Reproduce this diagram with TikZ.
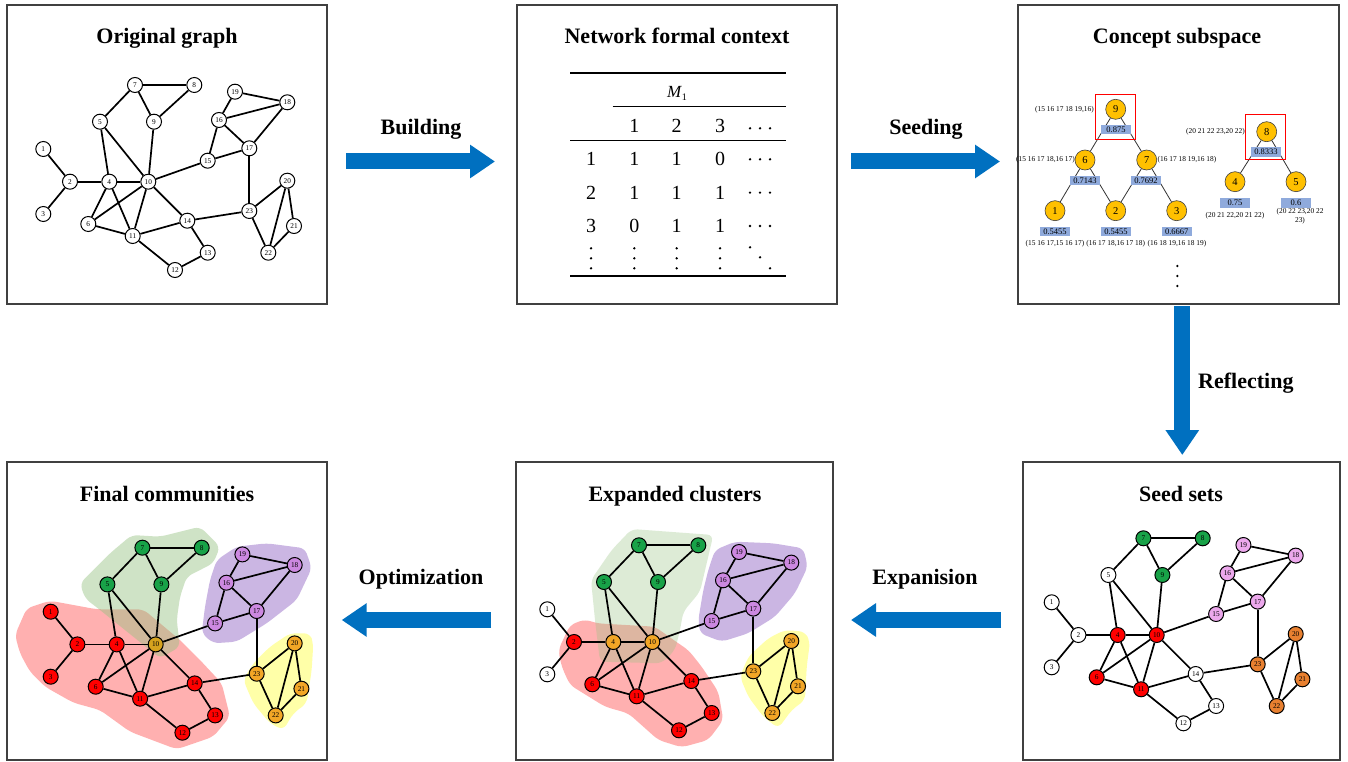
\documentclass[tikz,border=0pt]{standalone}
\usepackage{fontspec}
\setmainfont{Liberation Serif}
\usetikzlibrary{arrows.meta}

\definecolor{framec}{RGB}{64,64,64}
\definecolor{arrowblue}{RGB}{0,112,192}
\definecolor{cred}{RGB}{255,0,0}
\definecolor{cgreen}{RGB}{24,162,72}
\definecolor{cpink}{RGB}{236,168,236}
\definecolor{cpurple}{RGB}{204,136,224}
\definecolor{corangeA}{RGB}{232,128,48}
\definecolor{corangeB}{RGB}{242,166,38}
\definecolor{cgold}{RGB}{214,162,30}
\definecolor{hred}{RGB}{255,150,150}
\definecolor{hgreen}{RGB}{150,195,130}
\definecolor{hpurple}{RGB}{203,182,227}
\definecolor{hyellow}{RGB}{255,255,168}
\definecolor{tgold}{RGB}{255,192,0}
\definecolor{tblue}{RGB}{143,170,220}

\tikzset{
  panel/.style={draw=framec, line width=2pt},
  title/.style={anchor=base, inner sep=0pt, font=\fontsize{22}{24}\selectfont\bfseries},
  bigarrow/.style={draw=arrowblue, line width=16pt, -{Triangle[width=32pt,length=25pt]}},
  gn/.style={circle, draw=black, line width=1pt, minimum size=15pt, inner sep=0pt, font=\fontsize{7.3}{7.3}\selectfont},
  ge/.style={line width=1.7pt, draw=black},
  tabtxt/.style={anchor=base, inner sep=0pt, font=\fontsize{20}{20}\selectfont},
  tnode/.style={circle, fill=tgold, draw=black!75, line width=0.6pt, minimum size=20pt, inner sep=0pt, font=\fontsize{10.5}{10.5}\selectfont},
  tbox/.style={fill=tblue, minimum width=30pt, minimum height=9.3pt, inner sep=0pt, font=\fontsize{8.5}{8.5}\selectfont},
  tlab/.style={inner sep=0pt, font=\fontsize{7.4}{9}\selectfont, align=center},
  tedge/.style={draw=black!80, line width=0.8pt},
  redframe/.style={draw=red, line width=1pt},
  hullR/.style={fill=hred, fill opacity=0.75, rounded corners=6pt},
  hullG/.style={fill=hgreen, fill opacity=#1, rounded corners=6pt},
  hullP/.style={fill=hpurple, rounded corners=6pt},
  hullY/.style={fill=hyellow, rounded corners=6pt},
}

\newcommand\setcols[2]{\foreach \n in {#2} {\expandafter\xdef\csname gc\n\endcsname{#1}}}
\newcommand\drawgraph{%
  \foreach \n/\x/\y in {1/43.3/149, 2/70/181.7, 3/43.3/214, 4/109.3/181.7, 5/100/121.7,
    6/88.3/224, 7/135/85, 8/194.3/85, 9/154/121.7, 10/148.3/181.7, 11/132.7/236,
    12/175/270, 13/207.7/252.7, 14/187.3/220.7, 15/207.7/160.7, 16/219/120,
    17/249.3/148.3, 18/287.3/102.3, 19/235/91.7, 20/287.3/180.7, 21/294/226,
    22/268.3/252.7, 23/249.3/211}
    {\node[gn, fill=\csname gc\n\endcsname] (\n) at (\x,\y) {\n};}
  \foreach \a/\b in {1/2, 2/3, 2/4, 4/10, 4/5, 5/7, 5/10, 7/8, 7/9, 8/9, 9/10, 4/6,
    4/11, 6/10, 6/11, 10/11, 10/14, 11/14, 11/12, 12/13, 13/14, 10/15, 15/16, 15/17,
    16/17, 16/19, 16/18, 19/18, 18/17, 17/23, 14/23, 23/20, 23/22, 20/22, 20/21, 21/22}
    {\draw[ge] (\a) -- (\b);}
}

\begin{document}
\begin{tikzpicture}[x=1pt,y=-1pt]
\useasboundingbox (0,0) rectangle (1348,762);
\fill[white] (0,0) rectangle (1348,762);

% ---------- panel frames ----------
\draw[panel] (7,5) rectangle (327,304);
\draw[panel] (517,5) rectangle (837,304);
\draw[panel] (1018,5) rectangle (1339,304);
\draw[panel] (7,462) rectangle (327,760);
\draw[panel] (516,462) rectangle (833,760);
\draw[panel] (1023,462) rectangle (1340,760);

% ---------- titles ----------
\node[title] (ti1) at (167,44) {Original graph};
\node[title] (ti2) at (677,44) {Network formal context};
\node[title] (ti3) at (1177,44) {Concept subspace};
\node[title] (ti4) at (167,501) {Final communities};
\node[title] (ti5) at (675,501) {Expanded clusters};
\node[title] (ti6) at (1181,501) {Seed sets};

% ---------- arrows ----------
\coordinate (a1s) at (346,161.5); \coordinate (a1e) at (495,161.5);
\coordinate (a2s) at (851,161.5); \coordinate (a2e) at (1000,161.5);
\coordinate (a3s) at (1182.3,306); \coordinate (a3e) at (1182.3,455);
\coordinate (a4s) at (491,620); \coordinate (a4e) at (341.7,620);
\coordinate (a5s) at (1001,620); \coordinate (a5e) at (851,620);
\draw[bigarrow] (a1s) -- (a1e);
\draw[bigarrow] (a2s) -- (a2e);
\draw[bigarrow] (a3s) -- (a3e);
\draw[bigarrow] (a4s) -- (a4e);
\draw[bigarrow] (a5s) -- (a5e);
\node[title] (l1) at (421,135) {Building};
\node[title] (l2) at (926,135) {Seeding};
\node[title, anchor=base west] (l3) at (1198,388) {Reflecting};
\node[title] (l4) at (421,584) {Optimization};
\node[title] (l5) at (925,584) {Expanision};

% ---------- original graph ----------
\setcols{white}{1,...,23}
\begin{scope}[name prefix=O-]
\drawgraph
\end{scope}

% ---------- network formal context ----------
\draw[line width=2pt] (570,73.3) -- (785.7,73.3);
\draw[line width=1pt] (612.7,106.7) -- (785.7,106.7);
\draw[line width=1pt] (570,140.7) -- (785.7,140.7);
\draw[line width=2pt] (570,276) -- (785.7,276);
\node[anchor=base, inner sep=0pt] (m1) at (677,97.5) {\fontsize{17}{17}\selectfont\itshape M\/\raisebox{-3.5pt}{\fontsize{10}{10}\selectfont\upshape 1}};
\node[tabtxt] (h1) at (634.3,132.7) {1};
\node[tabtxt] (h2) at (676.7,132.7) {2};
\node[tabtxt] (h3) at (720,132.7) {3};
\node[tabtxt] (r1) at (591,166) {1};
\node[tabtxt] (r2) at (591,199.3) {2};
\node[tabtxt] (r3) at (591,232.7) {3};
\node[tabtxt] (r1a) at (634.3,166) {1}; \node[tabtxt] (r1b) at (676.7,166) {1}; \node[tabtxt] (r1c) at (720,166) {0};
\node[tabtxt] (r2a) at (634.3,199.3) {1}; \node[tabtxt] (r2b) at (676.7,199.3) {1}; \node[tabtxt] (r2c) at (720,199.3) {1};
\node[tabtxt] (r3a) at (634.3,232.7) {0}; \node[tabtxt] (r3b) at (676.7,232.7) {1}; \node[tabtxt] (r3c) at (720,232.7) {1};
\foreach \y in {128.3,159.3,192.6,226}{
  \foreach \x in {750,760,770} \fill (\x,\y) circle (1.3);
}
\foreach \x in {591,634.3,676.7,720}{
  \foreach \y in {248.3,258.3,268.3} \fill (\x,\y) circle (1.3);
}
\fill (750,247.3) circle (1.3); \fill (760,257.3) circle (1.3); \fill (770,268.3) circle (1.3);

% ---------- concept subspace ----------
\node[tnode] (t9) at (1115.7,109.3) {9};
\node[tnode] (t6) at (1085,160) {6};
\node[tnode] (t7) at (1146.7,160) {7};
\node[tnode] (t1) at (1055,210.7) {1};
\node[tnode] (t2) at (1115.7,210.7) {2};
\node[tnode] (t3) at (1176.7,210.7) {3};
\node[tnode] (t8) at (1266.7,131.7) {8};
\node[tnode] (t4) at (1235,181.7) {4};
\node[tnode] (t5) at (1296,181.7) {5};
\foreach \a/\b in {t9/t6, t9/t7, t6/t1, t6/t2, t7/t2, t7/t3, t8/t4, t8/t5}
  \draw[tedge] (\a) -- (\b);
\node[tbox] (b9) at (1116,129.7) {0.875};
\node[tbox] (b6) at (1085,180.5) {0.7143};
\node[tbox] (b7) at (1146,180.5) {0.7692};
\node[tbox] (b1) at (1055,231.3) {0.5455};
\node[tbox] (b2) at (1116,231.3) {0.5455};
\node[tbox] (b3) at (1176.7,231.3) {0.6667};
\node[tbox] (b8) at (1266,152) {0.8333};
\node[tbox] (b4) at (1235,203) {0.75};
\node[tbox] (b5) at (1296,203) {0.6};
\draw[redframe] (1095.7,94.3) rectangle (1135.7,139.3);
\draw[redframe] (1245,115) rectangle (1285.7,160);
\node[tlab, anchor=east] (c9) at (1094,110) {(15 16 17 18 19,16)};
\node[tlab, anchor=east] (c6) at (1075,160) {(15 16 17 18,16 17)};
\node[tlab, anchor=west] (c7) at (1157.5,160) {(16 17 18 19,16 18)};
\node[tlab, anchor=east] (c8) at (1245,131.7) {(20 21 22 23,20 22)};
\node[tlab] (c1) at (1055,243.3) {(15 16 17,15 16 17)};
\node[tlab] (c2) at (1115.7,243.3) {(16 17 18,16 17 18)};
\node[tlab] (c3) at (1177,243.3) {(16 18 19,16 18 19)};
\node[tlab] (c4) at (1235,216) {(20 21 22,20 21 22)};
\node[tlab] (c5) at (1300,216.2) {(20 22 23,20 22\\23)};
\foreach \y in {266,276,286} \fill (1177.3,\y) circle (1.3);

% ---------- seed sets ----------
\setcols{white}{1,...,23}
\setcols{cred}{4,6,10,11}
\setcols{cgreen}{7,8,9}
\setcols{cpink}{15,16,17,18,19}
\setcols{corangeA}{20,21,22,23}
\begin{scope}[shift={(1008.4,453.3)}, name prefix=S-]
\drawgraph
\end{scope}

% ---------- expanded clusters ----------
\fill[hullR] (558.3,650) -- (570,625) -- (585,619.3) -- (596.7,623.3) -- (655,626.7) -- (678.3,643.3) -- (688.3,650) -- (701.7,666.7) -- (718.3,691.7) -- (723.3,720) -- (708.3,740) -- (681.7,747.3) -- (658.3,740) -- (628.3,713.3) -- (605,706.7) -- (570,685) -- (561.7,666.7) -- cycle;
\fill[hullG=0.32] (631.7,529) -- (713.3,535) -- (700,591.7) -- (683.3,611.7) -- (680,630) -- (675,650) -- (661.7,663.3) -- (600,661.7) -- (595,620) -- (591,580) -- (611.7,550) -- cycle;
\fill[hullP] (715,550) -- (735,541.7) -- (773.3,543.3) -- (803.3,548.3) -- (807.7,566.7) -- (795,593.3) -- (775,616.7) -- (748.3,633.3) -- (721.7,641.7) -- (700,633.3) -- (698.3,620) -- (703.3,590) -- (708.3,570) -- cycle;
\fill[hullY] (748.3,656.7) -- (768.3,638.3) -- (785,630) -- (805,631.7) -- (810,641.7) -- (806.7,666.7) -- (805,700) -- (791.7,710) -- (778.3,728.3) -- (763.3,716.7) -- (748.3,696.7) -- (740,676.7) -- cycle;
\setcols{white}{1,...,23}
\setcols{cred}{2,6,11,12,13,14}
\setcols{corangeB}{4,10,20,21,22,23}
\setcols{cgreen}{5,7,8,9}
\setcols{cpurple}{15,16,17,18,19}
\begin{scope}[shift={(504,460.3)}, name prefix=E-]
\drawgraph
\end{scope}

% ---------- final communities ----------
\fill[hullR] (15,635) -- (26.7,608.3) -- (50,600.7) -- (96.7,609.3) -- (143.3,609.3) -- (180,640) -- (200,660) -- (221.7,683.3) -- (230,716.7) -- (213.3,736.7) -- (176.7,749.3) -- (130,731.7) -- (100,710) -- (73.3,702.7) -- (45,686.7) -- (30,671.7) -- (20,653.3) -- cycle;
\fill[hullG=0.45] (80,583.3) -- (110,553.3) -- (131.7,535) -- (160,536.7) -- (200,526.7) -- (220,546.7) -- (213.3,563.3) -- (186.7,576.7) -- (180,596.7) -- (176.7,620) -- (180,646.7) -- (160,658.3) -- (133.3,636.7) -- (100,610) -- (85,598.3) -- cycle;
\fill[hullP] (216.7,560) -- (236.7,546.7) -- (266.7,543.3) -- (305,548.3) -- (311.7,568.3) -- (296.7,600) -- (266.7,623.3) -- (236.7,641.7) -- (213.3,643.3) -- (201.7,633.3) -- (205,606.7) -- (210,580) -- cycle;
\fill[hullY] (253.3,663.3) -- (270,646.7) -- (290,633.3) -- (310,633.3) -- (313.3,643.3) -- (311.7,670) -- (306.7,703.3) -- (293.3,713.3) -- (283.3,730) -- (270,723.3) -- (253.3,703.3) -- (243.3,680) -- cycle;
\setcols{cred}{1,2,3,4,6,11,12,13,14}
\setcols{cgold}{10}
\setcols{cgreen}{5,7,8,9}
\setcols{cpurple}{15,16,17,18,19}
\setcols{corangeB}{20,21,22,23}
\begin{scope}[shift={(7.4,462.7)}, name prefix=F-]
\drawgraph
\end{scope}

\end{tikzpicture}
\end{document}
